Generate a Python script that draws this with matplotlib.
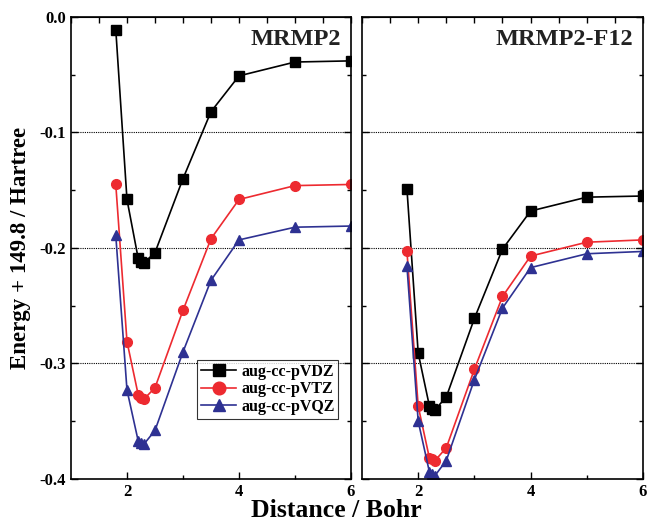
import matplotlib
matplotlib.use("Agg")
import matplotlib.pyplot as plt
import numpy as np

# bond distance (Bohr)
dist = [1.8, 2.0, 2.2, 2.25, 2.3, 2.5, 3.0, 3.5, 4.0, 5.0, 6.0]

# MRMP2 (energy + 149.8, Hartree)
mrmp2_vdz = [-0.011, -0.158, -0.209, -0.212, -0.213, -0.204, -0.140, -0.082, -0.051, -0.039, -0.038]
mrmp2_vtz = [-0.145, -0.281, -0.327, -0.330, -0.331, -0.321, -0.254, -0.192, -0.158, -0.146, -0.145]
mrmp2_vqz = [-0.189, -0.323, -0.367, -0.369, -0.370, -0.358, -0.290, -0.228, -0.193, -0.182, -0.181]

# MRMP2-F12
f12_vdz = [-0.149, -0.291, -0.337, -0.339, -0.340, -0.329, -0.261, -0.201, -0.168, -0.156, -0.155]
f12_vtz = [-0.203, -0.337, -0.382, -0.383, -0.384, -0.373, -0.305, -0.242, -0.207, -0.195, -0.193]
f12_vqz = [-0.216, -0.350, -0.394, -0.396, -0.397, -0.384, -0.314, -0.252, -0.217, -0.205, -0.203]

basis = ["aug-cc-pVDZ", "aug-cc-pVTZ", "aug-cc-pVQZ"]
colors = ["black", "#ed2a30", "#2e3192"]
markers = ["s", "o", "^"]

plt.rcParams["font.family"] = ["Liberation Serif", "DejaVu Serif"]
plt.rcParams["font.weight"] = "bold"

fig = plt.figure(figsize=(6.47, 5.24), dpi=100)
ax1 = fig.add_axes([0.1097, 0.0859, 0.4328, 0.8817])
ax2 = fig.add_axes([0.5595, 0.0859, 0.4343, 0.8817])

panels = [
    (ax1, "MRMP2", [mrmp2_vdz, mrmp2_vtz, mrmp2_vqz]),
    (ax2, "MRMP2-F12", [f12_vdz, f12_vtz, f12_vqz]),
]

for ax, name, series in panels:
    for y, lab, c, m in zip(series, basis, colors, markers):
        ax.plot(dist, y, color=c, marker=m, markersize=7, lw=1.2, label=lab)
    ax.set_xlim(1, 6)
    ax.set_ylim(-0.4, 0.0)
    for g in [-0.1, -0.2, -0.3]:
        ax.axhline(g, color="black", lw=0.8, ls=(0, (1, 1)), zorder=0)
    ax.set_xticks([2, 4, 6])
    ax.set_xticks([3, 5], minor=True)
    ax.set_yticks([0.0, -0.1, -0.2, -0.3, -0.4])
    ax.set_yticks([-0.05, -0.15, -0.25, -0.35], minor=True)
    ax.tick_params(which="both", direction="in", right=True, labelsize=12)
    ax.tick_params(which="major", length=5, width=1)
    ax.tick_params(which="minor", length=3, width=1)
    for sp in ax.spines.values():
        sp.set_linewidth(1.2)
    # top spine carries ticks every 0.5
    top = ax.secondary_xaxis("top")
    top.set_xticks(np.arange(1, 6.01, 0.5))
    top.tick_params(direction="in", length=4, width=1, labeltop=False)
    ax.text(0.965, 0.975, name, transform=ax.transAxes, ha="right", va="top",
            fontsize=17.5, fontweight="bold", color="#222222")

ax1.set_yticklabels(["0.0", "-0.1", "-0.2", "-0.3", "-0.4"])
ax2.set_yticklabels([])
ax1.set_ylabel("Energy + 149.8 / Hartree", fontsize=16.5, fontweight="bold",
               labelpad=6)
fig.text(0.52, 0.003, "Distance / Bohr", ha="center", va="bottom",
         fontsize=18.5, fontweight="bold")

leg = ax1.legend(loc="lower right", bbox_to_anchor=(0.955, 0.13), fontsize=11.5,
                 frameon=True, fancybox=False, handlelength=2.2,
                 borderpad=0.25, labelspacing=0.1, handletextpad=0.3,
                 borderaxespad=0, markerscale=1.3)
leg.get_frame().set_edgecolor("black")
leg.get_frame().set_linewidth(0.8)

fig.savefig("out.png", dpi=100)
